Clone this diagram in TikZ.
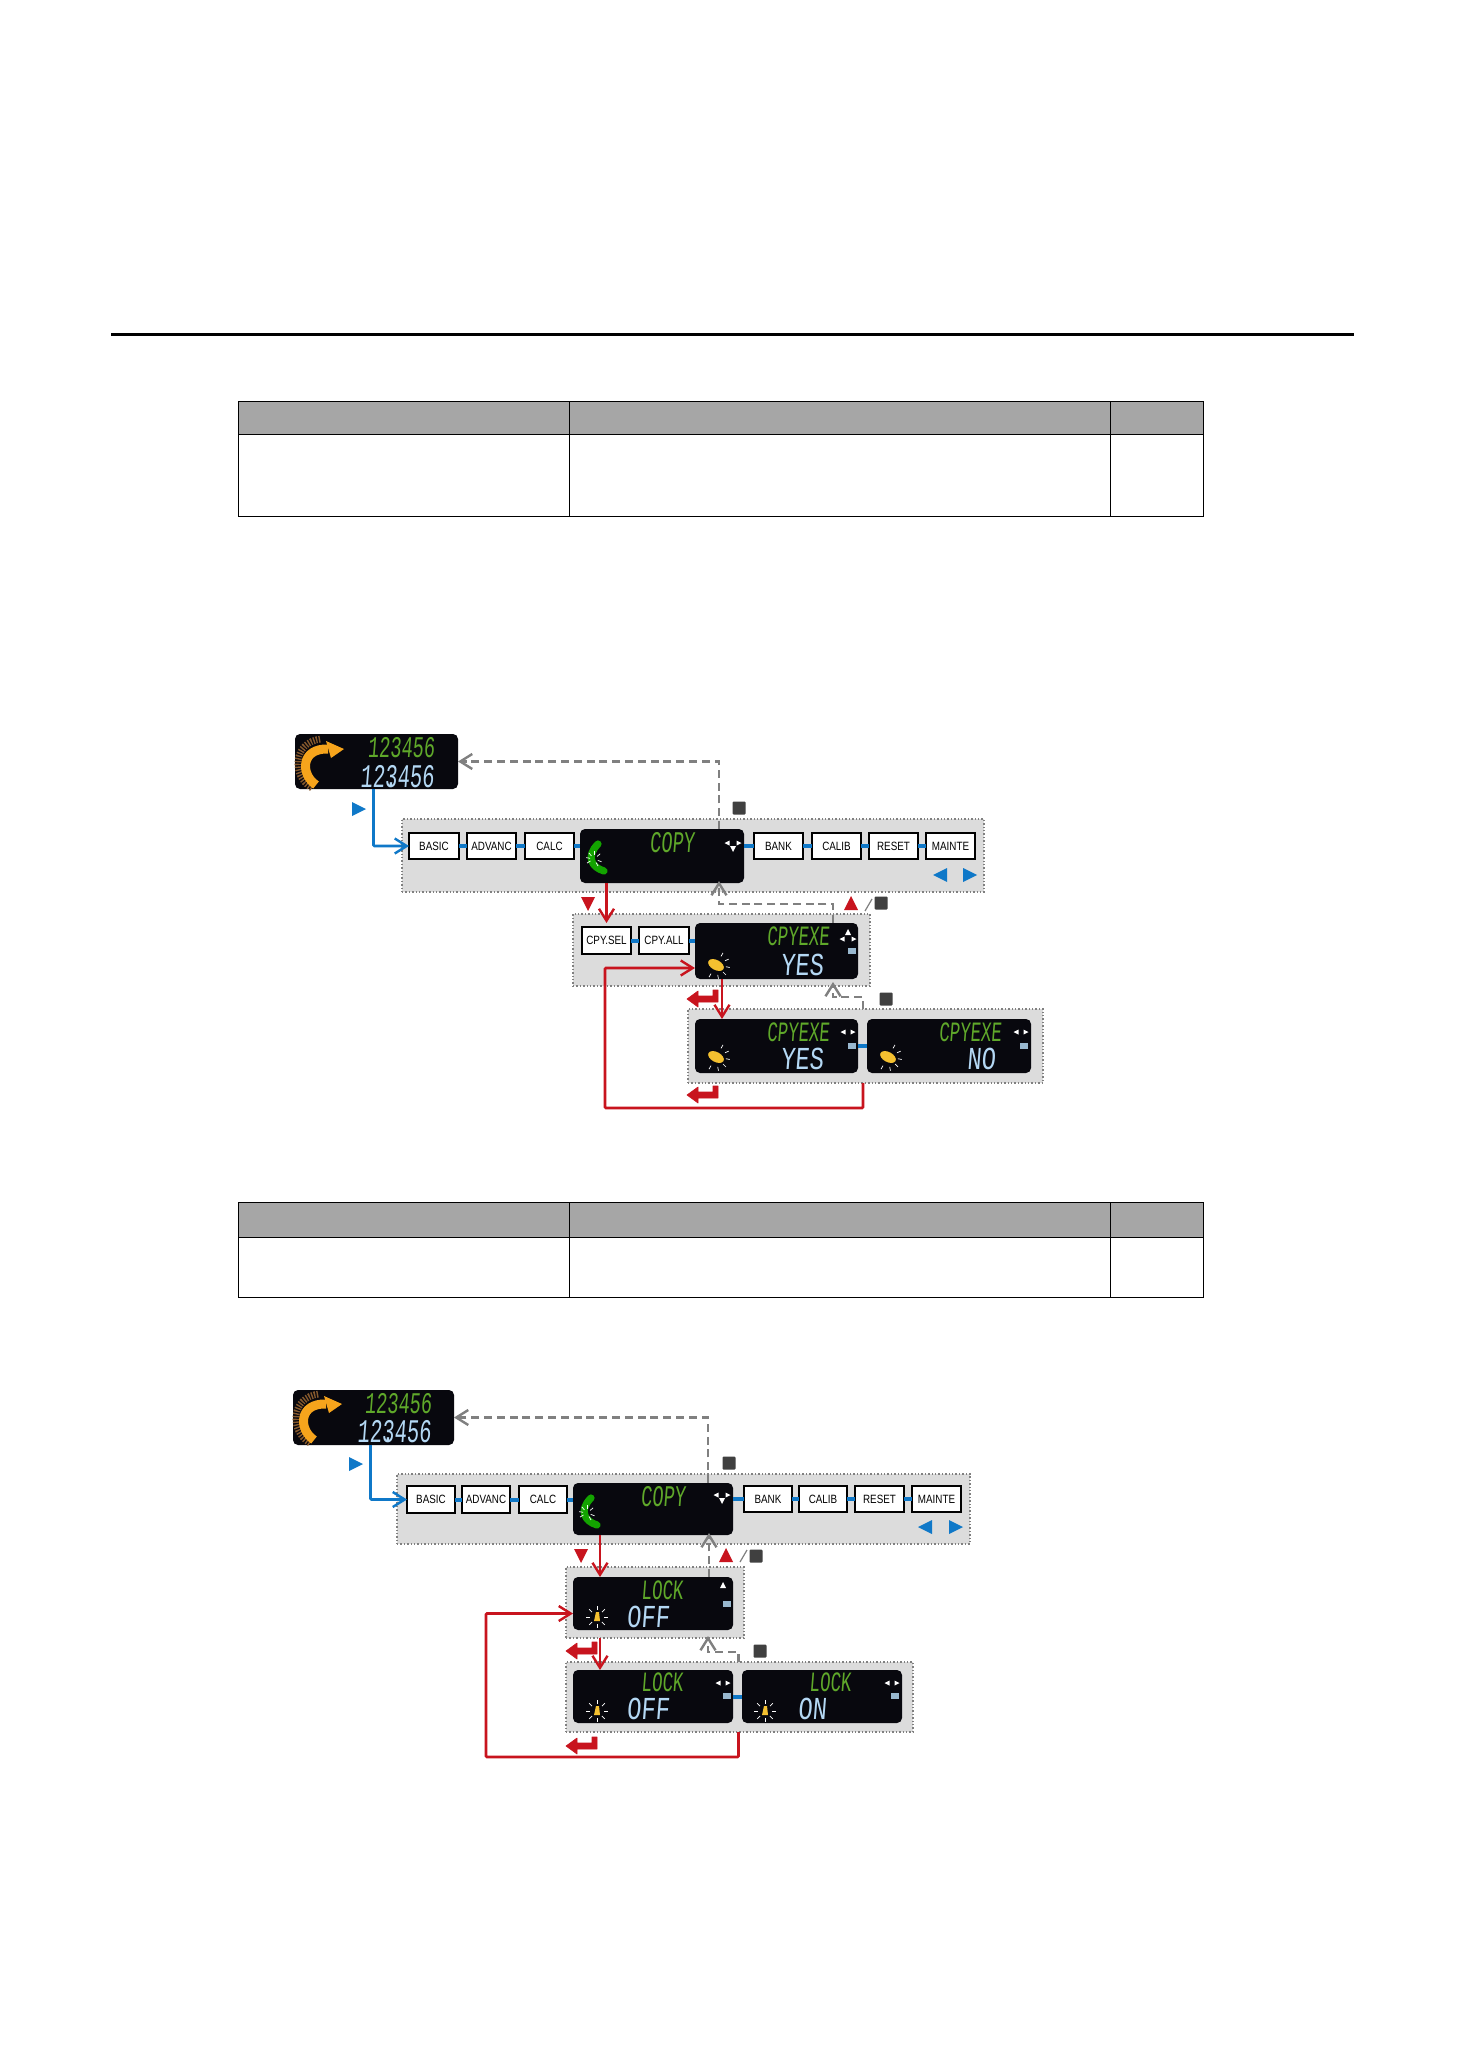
\documentclass[tikz,border=0pt]{standalone}
\usepackage{fontspec}
\usetikzlibrary{arrows.meta}
\setmainfont{Liberation Sans}
\newfontfamily\boxfont[FakeStretch=.82]{Liberation Sans}
\newfontfamily\lcdn[FakeStretch=.62,FakeSlant=.08]{Liberation Mono}
\newfontfamily\lcdw[FakeStretch=.74,FakeSlant=.08]{Liberation Mono}
\definecolor{pblue}{HTML}{0F78C8}
\definecolor{pred}{HTML}{C8141E}
\definecolor{pgray}{HTML}{808080}
\definecolor{panelc}{HTML}{DCDCDC}
\definecolor{dark}{HTML}{08080E}
\definecolor{lgreen}{HTML}{5FA82A}
\definecolor{lblue}{HTML}{B4D8F4}
\definecolor{orng}{HTML}{F6A41C}
\definecolor{sq}{HTML}{404040}
\definecolor{sun}{HTML}{F4C030}
\tikzset{
  panel/.style={fill=panelc,draw=pgray,densely dotted,line width=.7pt,inner sep=0,outer sep=0},
  disp/.style={fill=dark,rounded corners=2.5pt,inner sep=0,outer sep=0},
  menu/.style={fill=white,draw=black,line width=.7pt,inner sep=0,outer sep=0,font=\fontsize{6}{7}\selectfont\boxfont},
  txg/.style={text=lgreen,inner sep=0,font=\fontsize{15}{15}\selectfont\lcdn},
  txgs/.style={text=lgreen,inner sep=0,font=\fontsize{14}{14}\selectfont\lcdn},
  txb/.style={text=lblue,inner sep=0,font=\fontsize{16}{16}\selectfont\lcdw},
  link/.style={draw=pblue,line width=2pt},
  barb/.style={-{Straight Barb[length=6pt,width=7.5pt,line width=1.2pt]}},
  blueflow/.style={barb,draw=pblue,line width=1.3pt,rounded corners=.5pt},
  redflow/.style={barb,draw=pred,line width=1.3pt,rounded corners=.5pt},
  backflow/.style={barb,draw=pgray,line width=1.2pt,dash pattern=on 4pt off 2.4pt},
  cell/.style={draw=black,line width=.5pt}
}
\newcommand\placebox[7]{\node[#1,anchor=north west,minimum width={(#5-#3)*.5pt},minimum height={(#6-#4)*.5pt}] (#2) at (#3,#4) {#7};}
\newcommand\triL[4]{\fill[#1,shift={(#2,#3)},scale=#4] (-1,0)--(1,-1)--(1,1)--cycle;}
\newcommand\triR[4]{\fill[#1,shift={(#2,#3)},scale=#4] (1,0)--(-1,-1)--(-1,1)--cycle;}
\newcommand\triU[4]{\fill[#1,shift={(#2,#3)},scale=#4] (0,-1)--(1,1)--(-1,1)--cycle;}
\newcommand\triD[4]{\fill[#1,shift={(#2,#3)},scale=#4] (0,1)--(1,-1)--(-1,-1)--cycle;}
\newcommand\keysq[2]{\fill[sq,rounded corners=.5pt] (#1-6.5,#2-6.5) rectangle (#1+6.5,#2+6.5);}
\newcommand\enterkey[2]{\fill[pred,draw=pred,line width=.3pt,line join=round,shift={(#1,#2)}] (0,9)--(11,1)--(11,6)--(26,6)--(26,0)--(31,0)--(31,12)--(11,12)--(11,17)--cycle;}
\newcommand\slashmark[2]{\draw[pgray,line width=.6pt] (#1,#2+6)--(#1+7,#2-6);}
\newcommand\okey[2]{\begin{scope}[shift={(#1,#2)}]
  \draw[brown!70!black,line width=3.4pt,dash pattern=on .7pt off .7pt] (17,54) .. controls (-4,42) and (-2,8) .. (26,5);
  \draw[orng,line width=4.5pt] (21,51) .. controls (5,40) and (6,14) .. (33,15);
  \fill[orng] (31,7)--(49,15)--(36,24)--cycle;
\end{scope}}
\newcommand\gkey[2]{\begin{scope}[shift={(#1,#2)}]
  \draw[green!60!black!90!lime,line width=3.6pt,line cap=round] (18,15) .. controls (6,27) and (11,38) .. (24,42);
  \foreach \a in {150,190,230,270,320,20,60}{\draw[white,line width=.35pt] ([shift={(14,30)}]\a:4) -- ([shift={(14,30)}]\a:8);}
\end{scope}}
\newcommand\ykey[2]{\begin{scope}[shift={(#1,#2)}]
  \fill[sun,rotate=-28] (0,0) ellipse (8.5 and 5);
  \foreach \a in {-60,-25,10,45,80,120}{\draw[white,line width=.35pt] (\a:10) -- (\a:14);}
\end{scope}}
\newcommand\bkey[2]{\begin{scope}[shift={(#1,#2)}]
  \fill[sun] (-3,4)--(3,4)--(2,-5)--(-1,-5)--cycle;
  \foreach \a in {0,45,...,315}{\draw[white,line width=.35pt] (\a:7) -- (\a:11);}
\end{scope}}
\newcommand\navdown[2]{\triL{white}{#1-6}{#2-2}{2.5}\triR{white}{#1+6}{#2-2}{2.5}\triD{white}{#1}{#2+4}{3}}
\newcommand\navup[2]{\triL{white}{#1-6}{#2+3}{2.5}\triR{white}{#1+6}{#2+3}{2.5}\triU{white}{#1}{#2-4}{3}}
\newcommand\navlr[2]{\triL{white}{#1-5}{#2}{2.5}\triR{white}{#1+5}{#2}{2.5}}
\newcommand\minibox[2]{\fill[lblue!85!black] (#1-4,#2-3) rectangle (#1+4,#2+3);}
\begin{document}
\begin{tikzpicture}[x=.5pt,y=-.5pt]
\useasboundingbox (0,0) rectangle (1458,2064);
\fill[white] (0,0) rectangle (1458,2064);
% rule and tables
\fill[black] (111,333) rectangle (1354,336);
\fill[black!35] (238,402) rectangle (1203,435);
\draw[cell] (238,402) rectangle (1203,516);
\draw[cell] (238,435) -- (1203,435) (569,402) -- (569,516) (1110,402) -- (1110,516);
\fill[black!35] (238,1202) rectangle (1203,1237);
\draw[cell] (238,1202) rectangle (1203,1297);
\draw[cell] (238,1237) -- (1203,1237) (569,1202) -- (569,1297) (1110,1202) -- (1110,1297);

% ===== first diagram =====
\placebox{panel}{ga}{402}{819}{984}{892}{}
\placebox{panel}{gb}{573}{914}{870}{986}{}
\placebox{panel}{gc}{688}{1009}{1043}{1083}{}
\placebox{disp}{da}{295}{734}{458}{789}{}
\placebox{menu}{basic}{409}{833}{459}{859}{BASIC}
\placebox{menu}{advanc}{467}{833}{516}{859}{ADVANC}
\placebox{menu}{calc}{525}{833}{574}{859}{CALC}
\placebox{disp}{copy}{580}{829}{744}{883}{}
\placebox{menu}{bank}{754}{833}{803}{859}{BANK}
\placebox{menu}{calib}{812}{833}{861}{859}{CALIB}
\placebox{menu}{reset}{869}{833}{918}{859}{RESET}
\placebox{menu}{mainte}{926}{833}{975}{859}{MAINTE}
\placebox{menu}{cpysel}{582}{927}{631}{954}{CPY.SEL}
\placebox{menu}{cpyall}{639}{927}{689}{954}{CPY.ALL}
\placebox{disp}{exe}{695}{923}{858}{979}{}
\placebox{disp}{yes}{695}{1019}{858}{1073}{}
\placebox{disp}{no}{867}{1019}{1031}{1073}{}
\node[txg] (ta1) at (401,748) {123456};
\node[txb,font=\fontsize{16.5}{16.5}\selectfont\lcdn] (tb1) at (397,777) {12\rlap{.}3456};
\node[txg] (tc1) at (672,843) {COPY};
\node[txgs] (te1) at (798,936) {CPYEXE};
\node[txb] (tf1) at (802,965) {YES};
\node[txgs] (te2) at (798,1032) {CPYEXE};
\node[txb] (tf2) at (802,1059) {YES};
\node[txgs] (te3) at (970,1032) {CPYEXE};
\node[txb] (tf3) at (981,1059) {NO};
\okey{295}{734}
\gkey{580}{829}
\ykey{716}{965}
\ykey{716}{1057}
\ykey{888}{1057}
\navdown{733}{845}
\navup{848}{936}\minibox{852}{951}
\navlr{848}{1032}\minibox{852}{1046}
\navlr{1021}{1032}\minibox{1024}{1046}
\triR{pblue}{359}{809}{7}
\triL{pblue}{940}{875}{7}
\triR{pblue}{970}{875}{7}
\triD{pred}{588}{904}{7}
\triU{pred}{851}{903}{7}
\slashmark{865}{905}
\keysq{881}{903}
\keysq{739}{808}
\keysq{886}{999}
\enterkey{687}{990}
\enterkey{687}{1086}
% connectors
\draw[link] (basic.east) -- (advanc.west);
\draw[link] (advanc.east) -- (calc.west);
\draw[link] (calc.east) -- (calc.east -| copy.west);
\draw[link] (bank.west -| copy.east) -- (bank.west);
\draw[link] (bank.east) -- (calib.west);
\draw[link] (calib.east) -- (reset.west);
\draw[link] (reset.east) -- (mainte.west);
\draw[link] (cpysel.east) -- (cpyall.west);
\draw[link] (cpyall.east) -- (cpyall.east -| exe.west);
\draw[link] (yes.east) -- (no.west);
\draw[blueflow] ([xshift=-1.5pt]da.south) |- (basic.west);
\draw[redflow,shorten >=2pt] (cpysel.north |- copy.south) -- (cpysel.north);
\coordinate (ra) at (722,1019);
\draw[redflow] (ra |- exe.south) -- (ra);
\coordinate (rb) at (605,1108);
\draw[redflow] ([xshift=-1.25pt]gc.south) |- (rb) |- ([yshift=-8.5pt]exe.west);
\draw[backflow] ([xshift=28.5pt]copy.north) |- (da.east);
\coordinate (ba) at (719,904);
\draw[backflow,shorten >=-1pt] ([xshift=28.25pt]exe.north) |- (ba) -- (ba |- copy.south);
\coordinate (bb) at (833,997);
\draw[backflow,shorten >=-2pt] ([xshift=-1.25pt]gc.north) |- (bb) -- (bb |- gb.south);

% ===== second diagram =====
\placebox{panel}{gd}{397}{1474}{970}{1544}{}
\placebox{panel}{ge}{566}{1567}{744}{1638}{}
\placebox{panel}{gf}{566}{1662}{913}{1732}{}
\placebox{disp}{db}{293}{1390}{454}{1445}{}
\placebox{menu}{basicb}{407}{1486}{455}{1513}{BASIC}
\placebox{menu}{advancb}{462}{1486}{510}{1513}{ADVANC}
\placebox{menu}{calcb}{519}{1486}{567}{1513}{CALC}
\placebox{disp}{copyb}{573}{1483}{733}{1535}{}
\placebox{menu}{bankb}{744}{1486}{792}{1512}{BANK}
\placebox{menu}{calibb}{799}{1486}{847}{1512}{CALIB}
\placebox{menu}{resetb}{855}{1486}{904}{1512}{RESET}
\placebox{menu}{mainteb}{912}{1486}{961}{1512}{MAINTE}
\placebox{disp}{lock}{573}{1577}{733}{1630}{}
\placebox{disp}{off}{573}{1670}{733}{1723}{}
\placebox{disp}{on}{742}{1670}{902}{1723}{}
\node[txg] (ta2) at (398,1404) {123456};
\node[txb,font=\fontsize{16.5}{16.5}\selectfont\lcdn] (tb2) at (394,1432) {12\rlap{.}3456};
\node[txg] (tc2) at (663,1497) {COPY};
\node[txgs] (tg1) at (662,1590) {LOCK};
\node[txb] (th1) at (648,1617) {OFF};
\node[txgs] (tg2) at (662,1682) {LOCK};
\node[txb] (th2) at (648,1709) {OFF};
\node[txgs] (tg3) at (830,1682) {LOCK};
\node[txb] (th3) at (812,1709) {ON};
\okey{293}{1389}
\gkey{573}{1483}
\bkey{597}{1617}
\bkey{597}{1711}
\bkey{765}{1711}
\navdown{722}{1497}
\triU{white}{723}{1585}{3}\minibox{727}{1604}
\navlr{723}{1683}\minibox{727}{1696}
\navlr{892}{1683}\minibox{895}{1696}
\triR{pblue}{356}{1464}{7}
\triL{pblue}{925}{1527}{7}
\triR{pblue}{956}{1527}{7}
\triD{pred}{581}{1556}{7}
\triU{pred}{726}{1555}{7}
\slashmark{740}{1556}
\keysq{756}{1556}
\keysq{729}{1463}
\keysq{760}{1651}
\enterkey{566}{1642}
\enterkey{566}{1737}
% connectors
\draw[link] (basicb.east) -- (advancb.west);
\draw[link] (advancb.east) -- (calcb.west);
\draw[link] (calcb.east) -- (calcb.east -| copyb.west);
\draw[link] (bankb.west -| copyb.east) -- (bankb.west);
\draw[link] (bankb.east) -- (calibb.west);
\draw[link] (calibb.east) -- (resetb.west);
\draw[link] (resetb.east) -- (mainteb.west);
\draw[link] (off.east) -- (on.west);
\draw[blueflow] ([xshift=-1.5pt]db.south) |- (basicb.west);
\coordinate (rc) at (600,1577);
\draw[redflow] (rc |- copyb.south) -- (rc);
\coordinate (rd) at (600,1670);
\draw[redflow] (rd |- ge.south) -- (rd);
\coordinate (re) at (486,1757);
\draw[redflow] ([xshift=-.5pt]gf.south) |- (re) |- ([yshift=-5pt]lock.west);
\draw[backflow] ([xshift=27.5pt]copyb.north) |- (db.east);
\coordinate (bc) at (709,1577);
\draw[backflow,shorten >=-1pt] (bc) -- (bc |- copyb.south);
\coordinate (bd) at (708,1652);
\draw[backflow,shorten >=-1pt] ([xshift=-.5pt]gf.north) |- (bd) -- (bd |- ge.south);
\end{tikzpicture}
\end{document}
